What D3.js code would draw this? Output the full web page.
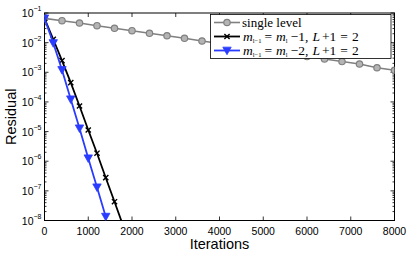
<!DOCTYPE html>
<html>
<head>
<meta charset="utf-8">
<script src="https://cdn.jsdelivr.net/npm/d3@7"></script>
<style>
  body { margin: 0; background: #fff; }
  svg { display: block; }
</style>
</head>
<body>
<svg width="409" height="254"></svg>
<script>
// values
var singleIter = [0, 400, 800, 1200, 1600, 2000, 2400, 2800, 3200, 3600, 4000,
                  4400, 4800, 5200, 5600, 6000, 6400, 6800, 7200, 7600, 8000];
var singleRes = [0.066, 0.055, 0.046, 0.0373, 0.0305, 0.0253, 0.0207, 0.0171, 0.014, 0.01135, 0.0093,
                 0.0076, 0.0062, 0.0051, 0.0041, 0.0034, 0.0028, 0.0023, 0.0019, 0.00142, 0.00117];
var m1Iter = [0, 200, 400, 600, 800, 1000, 1200, 1400, 1600, 1800];
var m1Res = [0.066, 0.013, 2.46e-3, 4.5e-4, 7.3e-5, 1.13e-5, 1.86e-6, 2.78e-7, 4.3e-8, 6.5e-9];
var m2Iter = [0, 200, 400, 600, 800, 1000, 1200, 1400];
var m2Res = [0.066, 9.7e-3, 1.2e-3, 1.23e-4, 1.29e-5, 1.26e-6, 1.32e-7, 1.35e-8];
var xTicks = [0, 1000, 2000, 3000, 4000, 5000, 6000, 7000, 8000];
var yExps = [-1, -2, -3, -4, -5, -6, -7, -8];

var svg = d3.select("svg"),
    pL = 44.5, pT = 13, pR = 394.5, pB = 220.5;

var x = d3.scaleLinear().domain([0, 8000]).range([pL, pR]);
var y = d3.scaleLog().domain([1e-8, 1e-1]).range([pB, pT]);

svg.append("clipPath").attr("id", "plotclip")
    .append("rect").attr("x", pL).attr("y", pT)
    .attr("width", pR - pL).attr("height", pB - pT);

var axisFont = "'Liberation Sans', Arial, sans-serif";

// ticks (inward, all four sides)
var ticks = svg.append("g").attr("stroke", "#000").attr("stroke-width", 0.8);
xTicks.forEach(function (t) {
    ticks.append("line").attr("x1", x(t)).attr("x2", x(t)).attr("y1", pB).attr("y2", pB - 4);
    ticks.append("line").attr("x1", x(t)).attr("x2", x(t)).attr("y1", pT).attr("y2", pT + 4);
});
yExps.forEach(function (e) {
    var v = Math.pow(10, e);
    ticks.append("line").attr("x1", pL).attr("x2", pL + 4).attr("y1", y(v)).attr("y2", y(v));
    ticks.append("line").attr("x1", pR).attr("x2", pR - 4).attr("y1", y(v)).attr("y2", y(v));
    if (e > -8) {
        for (var k = 2; k < 10; k++) {
            var yy = y(k * Math.pow(10, e - 1));
            ticks.append("line").attr("x1", pL).attr("x2", pL + 2).attr("y1", yy).attr("y2", yy);
            ticks.append("line").attr("x1", pR).attr("x2", pR - 2).attr("y1", yy).attr("y2", yy);
        }
    }
});

// box
svg.append("rect")
    .attr("x", pL).attr("y", pT)
    .attr("width", pR - pL).attr("height", pB - pT)
    .attr("fill", "none").attr("stroke", "#000").attr("stroke-width", 1);

// x tick labels
svg.append("g").selectAll("text")
    .data(xTicks).enter().append("text")
    .attr("x", function (d) { return x(d); })
    .attr("y", pB + 14)
    .attr("text-anchor", "middle")
    .attr("font-family", axisFont)
    .attr("font-size", "10.5px")
    .text(function (d) { return d; });

// y tick labels 10^e
var yl = svg.append("g").attr("font-family", axisFont);
yExps.forEach(function (e) {
    var t = yl.append("text")
        .attr("x", pL - 3).attr("y", y(Math.pow(10, e)) + 4)
        .attr("text-anchor", "end")
        .attr("font-size", "10.5px");
    t.append("tspan").text("10");
    t.append("tspan").attr("dy", -6).attr("font-size", "7px").text("\u2212" + (-e));
});

// axis titles
svg.append("text")
    .attr("x", (pL + pR) / 2).attr("y", 248.5)
    .attr("text-anchor", "middle")
    .attr("font-family", axisFont).attr("font-size", "14.5px")
    .text("Iterations");
svg.append("text")
    .attr("transform", "translate(16," + ((pT + pB) / 2) + ") rotate(-90)")
    .attr("text-anchor", "middle")
    .attr("font-family", axisFont).attr("font-size", "14.5px")
    .text("Residual");

// series
var line = d3.line().x(function (d) { return x(d[0]); }).y(function (d) { return y(d[1]); });
var plot = svg.append("g").attr("clip-path", "url(#plotclip)");

var gray = "#808080", blue = "#2a3cff";

function drawCircle(g, cx, cy) {
    g.append("circle").attr("cx", cx).attr("cy", cy).attr("r", 3.2)
        .attr("fill", "#b4b4b4").attr("stroke", gray).attr("stroke-width", 1.2);
}
function drawCross(g, cx, cy) {
    var s = 2.6;
    g.append("path")
        .attr("d", "M" + (cx - s) + "," + (cy - s) + "L" + (cx + s) + "," + (cy + s) +
                   "M" + (cx - s) + "," + (cy + s) + "L" + (cx + s) + "," + (cy - s))
        .attr("stroke", "#000").attr("stroke-width", 1.4);
}
function drawTri(g, cx, cy) {
    var s = 4.2;
    g.append("path")
        .attr("d", "M" + (cx - s) + "," + (cy - s * 0.8) + "L" + (cx + s) + "," + (cy - s * 0.8) +
                   "L" + cx + "," + (cy + s) + "Z")
        .attr("fill", blue).attr("stroke", blue).attr("stroke-width", 0.8);
}

var s1 = d3.zip(singleIter, singleRes),
    s2 = d3.zip(m1Iter, m1Res),
    s3 = d3.zip(m2Iter, m2Res);

plot.append("path").datum(s1).attr("d", line)
    .attr("fill", "none").attr("stroke", gray).attr("stroke-width", 1.6);
s1.forEach(function (d) { drawCircle(plot, x(d[0]), y(d[1])); });

plot.append("path").datum(s2).attr("d", line)
    .attr("fill", "none").attr("stroke", "#000").attr("stroke-width", 1.8);
s2.forEach(function (d) { drawCross(plot, x(d[0]), y(d[1])); });

plot.append("path").datum(s3).attr("d", line)
    .attr("fill", "none").attr("stroke", blue).attr("stroke-width", 1.8);
s3.forEach(function (d) { drawTri(plot, x(d[0]), y(d[1])); });

// legend
var lg = svg.append("g");
lg.append("rect").attr("x", 210.5).attr("y", 14.5).attr("width", 180.5).attr("height", 44)
    .attr("fill", "#fff").attr("stroke", "#000").attr("stroke-width", 0.8);

var serif = "'Liberation Serif', 'Times New Roman', serif";
var rows = [22.5, 36.5, 50.5];

lg.append("line").attr("x1", 214).attr("x2", 240).attr("y1", rows[0]).attr("y2", rows[0])
    .attr("stroke", gray).attr("stroke-width", 1.6);
drawCircle(lg, 227, rows[0]);
lg.append("line").attr("x1", 214).attr("x2", 240).attr("y1", rows[1]).attr("y2", rows[1])
    .attr("stroke", "#000").attr("stroke-width", 1.8);
drawCross(lg, 227, rows[1]);
lg.append("line").attr("x1", 214).attr("x2", 240).attr("y1", rows[2]).attr("y2", rows[2])
    .attr("stroke", blue).attr("stroke-width", 1.8);
drawTri(lg, 227, rows[2]);

lg.append("text").attr("x", 242).attr("y", rows[0] + 4)
    .attr("font-family", serif).attr("font-size", "13px").text("single level");

function mathRow(yy, k) {
    var t = lg.append("text").attr("x", 243).attr("y", yy + 4)
        .attr("font-family", serif).attr("font-size", "13.5px");
    t.append("tspan").attr("font-style", "italic").text("m");
    t.append("tspan").attr("font-size", "6.5px").attr("dy", 2.5).text("l\u22121");
    t.append("tspan").attr("dy", -2.5).attr("dx", 3).text("=");
    t.append("tspan").attr("dx", 4).attr("font-style", "italic").text("m");
    t.append("tspan").attr("font-size", "6.5px").attr("dy", 2.5).text("l");
    t.append("tspan").attr("dy", -2.5).attr("dx", 3).text("\u2212" + k + ",");
    t.append("tspan").attr("dx", 4).attr("font-style", "italic").text("L");
    t.append("tspan").attr("dx", 2).text("+1");
    t.append("tspan").attr("dx", 4).text("=");
    t.append("tspan").attr("dx", 4).text("2");
}
mathRow(rows[1], 1);
mathRow(rows[2], 2);
</script>
</body>
</html>
